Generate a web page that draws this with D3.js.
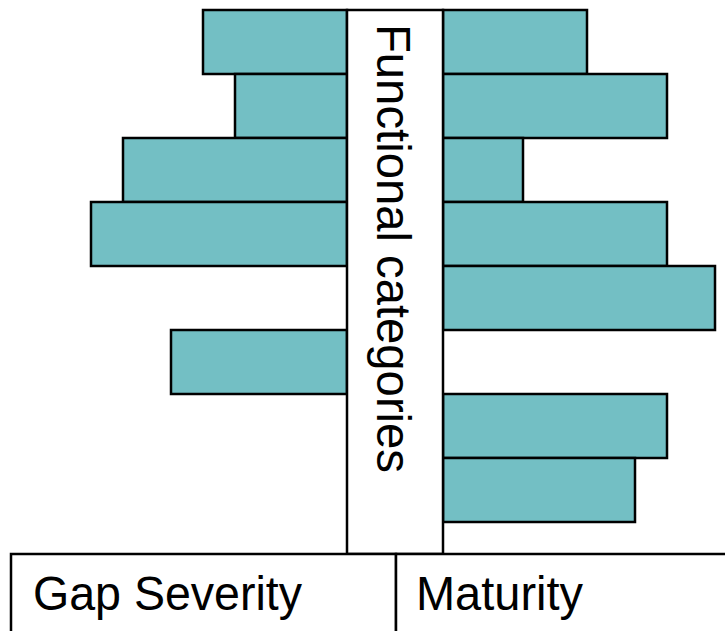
<!DOCTYPE html>
<html>
<head>
<meta charset="utf-8">
<script src="https://cdn.jsdelivr.net/npm/d3@7"></script>
<style>
  body { margin: 0; background: #fff; }
  text { font-family: "Liberation Sans", Arial, sans-serif; fill: #000; }
</style>
</head>
<body>
<div id="chart"></div>
<script>
// Functional categories (unlabelled in the picture), top to bottom
const categories = ['C1', 'C2', 'C3', 'C4', 'C5', 'C6', 'C7', 'C8'];
// Gap severity (left side), 0 = no bar
const gapSeverity = [4.5, 3.5, 7, 8, 0, 5.5, 0, 0];
// Maturity (right side)
const maturity = [4.5, 7, 2.5, 7, 8.5, 0, 7, 6];

const centerTitle = 'Functional categories';
const leftTitle = 'Gap Severity';
const rightTitle = 'Maturity';

const width = 725;
const height = 631;
const barFill = '#73bfc4';
const lineW = 2.5;

const svg = d3.select('#chart')
  .append('svg')
  .attr('width', width)
  .attr('height', height);

// Centre column and row band
const colLeft = 347;
const colRight = 443;
const y = d3.scaleBand()
  .domain(categories)
  .range([10, 522]);

// Length scale, same for both sides
const len = d3.scaleLinear()
  .domain([0, 8])
  .range([0, 256]);

const rows = categories.map((c, i) => ({ cat: c, left: gapSeverity[i], right: maturity[i] }));

// Left bars grow leftward from the column
svg.selectAll('rect.left')
  .data(rows.filter((d) => d.left > 0))
  .enter()
  .append('rect')
  .attr('class', 'left')
  .attr('x', (d) => colLeft - len(d.left))
  .attr('y', (d) => y(d.cat))
  .attr('width', (d) => len(d.left))
  .attr('height', y.bandwidth())
  .attr('fill', barFill)
  .attr('stroke', '#000')
  .attr('stroke-width', lineW);

// Right bars grow rightward from the column
svg.selectAll('rect.right')
  .data(rows.filter((d) => d.right > 0))
  .enter()
  .append('rect')
  .attr('class', 'right')
  .attr('x', colRight)
  .attr('y', (d) => y(d.cat))
  .attr('width', (d) => len(d.right))
  .attr('height', y.bandwidth())
  .attr('fill', barFill)
  .attr('stroke', '#000')
  .attr('stroke-width', lineW);

// Centre column
svg.append('rect')
  .attr('x', colLeft)
  .attr('y', 10)
  .attr('width', colRight - colLeft)
  .attr('height', 544)
  .attr('fill', '#fff')
  .attr('stroke', '#000')
  .attr('stroke-width', lineW);

svg.append('text')
  .attr('transform', 'translate(377,24) rotate(90)')
  .attr('font-size', 48)
  .attr('textLength', 449)
  .attr('lengthAdjust', 'spacingAndGlyphs')
  .text(centerTitle);

// Bottom table
svg.append('rect')
  .attr('x', 11)
  .attr('y', 554)
  .attr('width', 385)
  .attr('height', 100)
  .attr('fill', '#fff')
  .attr('stroke', '#000')
  .attr('stroke-width', lineW);

svg.append('rect')
  .attr('x', 396)
  .attr('y', 554)
  .attr('width', 340)
  .attr('height', 100)
  .attr('fill', '#fff')
  .attr('stroke', '#000')
  .attr('stroke-width', lineW);

svg.append('text')
  .attr('x', 33)
  .attr('y', 610)
  .attr('font-size', 48)
  .attr('textLength', 269)
  .attr('lengthAdjust', 'spacingAndGlyphs')
  .text(leftTitle);

svg.append('text')
  .attr('x', 416)
  .attr('y', 610)
  .attr('font-size', 48)
  .attr('textLength', 167)
  .attr('lengthAdjust', 'spacingAndGlyphs')
  .text(rightTitle);
</script>
</body>
</html>
